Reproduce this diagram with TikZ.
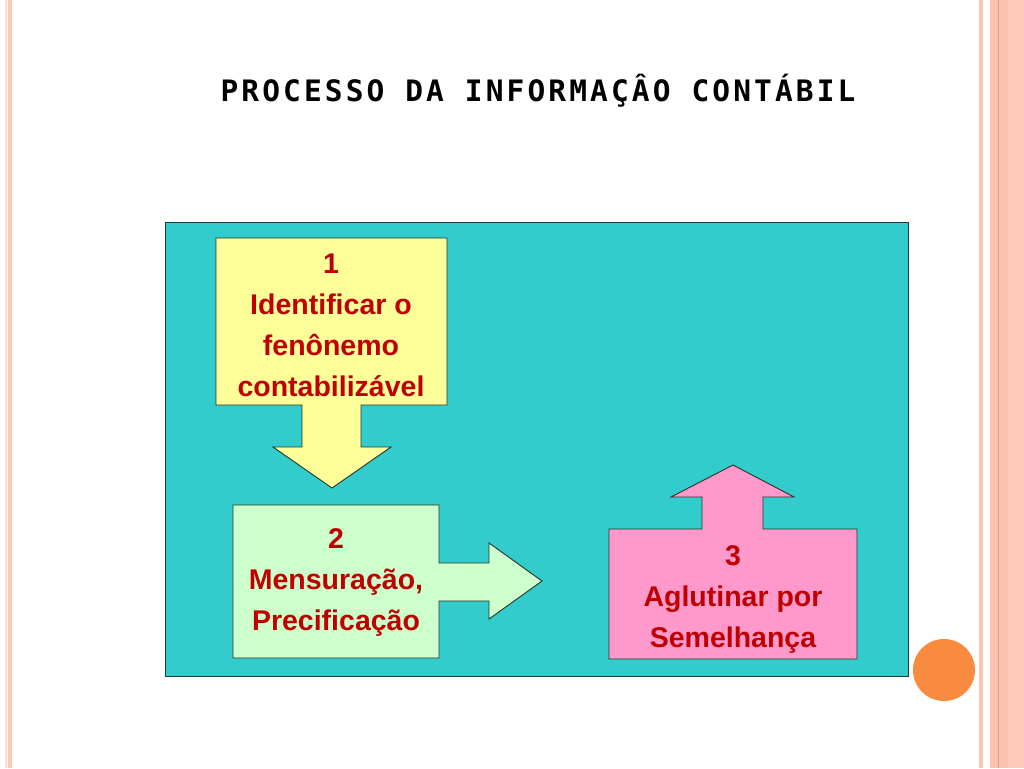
\documentclass[tikz,border=0pt]{standalone}
\usepackage{fontspec}
\setmainfont{Liberation Sans}
\newfontfamily\titlefont[LetterSpace=10.6]{DejaVu Sans Mono}
\definecolor{panel}{HTML}{33CCCC}
\definecolor{yel}{HTML}{FFFF99}
\definecolor{grn}{HTML}{CCFFCC}
\definecolor{pnk}{HTML}{FF99CC}
\definecolor{txtred}{HTML}{C00000}
\definecolor{salm}{HTML}{FFC8B8}
\definecolor{salmd}{HTML}{FCC2B0}
\definecolor{salml}{HTML}{E89A7A}
\definecolor{beige}{HTML}{FBE3D3}
\definecolor{orng}{HTML}{F98B3E}
\tikzset{
  shapebox/.style={draw={rgb,255:red,40;green,50;blue,40}, line width=0.9pt},
  lbl/.style={font=\fontsize{28.5}{41}\bfseries\selectfont, text=txtred, align=center, anchor=base, inner sep=0pt}
}
\begin{document}
\begin{tikzpicture}[x=1pt,y=-1pt]
\useasboundingbox (0,0) rectangle (1024,768);
\fill[white] (0,0) rectangle (1024,768);
% borders
\fill[beige] (5,0) rectangle (7,768);
\fill[salm] (8,0) rectangle (12,768);
\fill[salmd] (979,0) rectangle (983,768);
\fill[salmd] (990,0) rectangle (1008,768);
\fill[salm] (1008,0) rectangle (1024,768);
\fill[salml] (997.5,0) rectangle (999,768);
% title
\node[anchor=base, inner sep=0pt, font=\titlefont\bfseries\fontsize{29.5}{34}\selectfont] (title) at (538,101) {PROCESSO DA INFORMAÇÂO CONTÁBIL};
% panel
\draw[fill=panel, draw={rgb,255:red,30;green,60;blue,60}, line width=0.9pt] (165,222) rectangle (908,676);
% box 1 with down arrow
\draw[shapebox, fill=yel] (216,238) -- (447,238) -- (447,405) -- (361,405) -- (361,447) -- (391,447) -- (332,488) -- (273,447) -- (302,447) -- (302,405) -- (216,405) -- cycle;
% box 2 with right arrow
\draw[shapebox, fill=grn] (233,505) -- (439,505) -- (439,563) -- (489,563) -- (489,543) -- (542,581) -- (489,619) -- (489,601) -- (439,601) -- (439,658) -- (233,658) -- cycle;
% box 3 with up arrow
\draw[shapebox, fill=pnk] (609,529) -- (702,529) -- (702,497) -- (671,497) -- (733,465) -- (794,497) -- (763,497) -- (763,529) -- (857,529) -- (857,659) -- (609,659) -- cycle;
% labels (base anchor = baseline of last line)
\node[lbl] (t1) at (331,396) {1\\Identificar o\\fenônemo\\contabilizável};
\node[lbl] (t2) at (336,630) {2\\Mensuração,\\Precificação};
\node[lbl] (t3) at (733,647) {3\\Aglutinar por\\Semelhança};
% circle
\fill[orng] (944,670) circle (31);
\end{tikzpicture}
\end{document}
